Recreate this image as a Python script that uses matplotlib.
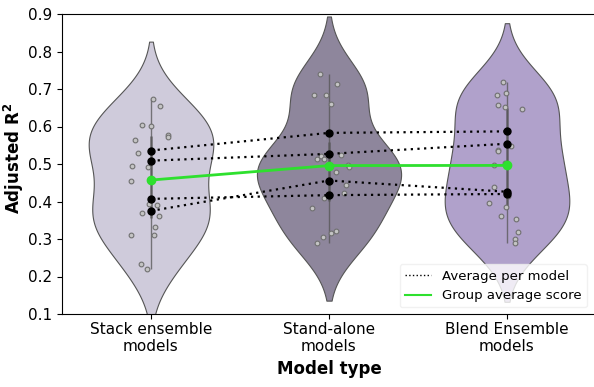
import numpy as np
import pandas as pd
import matplotlib.pyplot as plt
import seaborn as sns
from matplotlib.lines import Line2D

# adjusted R2 of every fitted model, per model type
groups = ["Stack ensemble\nmodels", "Stand-alone\nmodels", "Blend Ensemble\nmodels"]
stack_scores = [0.674, 0.655, 0.605, 0.601, 0.578, 0.572, 0.564, 0.529, 0.496, 0.491,
                0.455, 0.394, 0.390, 0.370, 0.362, 0.333, 0.311, 0.310, 0.233, 0.221]
standalone_scores = [0.739, 0.713, 0.685, 0.683, 0.659, 0.525, 0.521, 0.513, 0.513, 0.498,
                     0.493, 0.479, 0.445, 0.423, 0.409, 0.383, 0.322, 0.317, 0.305, 0.290]
blend_scores = [0.719, 0.689, 0.684, 0.658, 0.653, 0.647, 0.548, 0.537, 0.534, 0.503,
                0.497, 0.439, 0.414, 0.396, 0.385, 0.361, 0.354, 0.318, 0.300, 0.289]

# average score of each of the four models in each group
model_avgs = [
    [0.536, 0.583, 0.587],
    [0.509, 0.527, 0.554],
    [0.375, 0.456, 0.426],
    [0.407, 0.417, 0.420],
]

colors = ["#cfcbdb", "#8e869c", "#b0a1cb"]
half_widths = [0.35, 0.405, 0.35]
green = "#2ee02e"

all_scores = [stack_scores, standalone_scores, blend_scores]
df = pd.DataFrame({
    "group": np.repeat(groups, [len(s) for s in all_scores]),
    "score": np.concatenate(all_scores),
})


def kde(values, cut=2):
    # gaussian kde, scott bandwidth
    v = np.asarray(values)
    bw = v.std(ddof=1) * len(v) ** (-1 / 5)
    grid = np.linspace(v.min() - cut * bw, v.max() + cut * bw, 300)
    dens = np.exp(-0.5 * ((grid[:, None] - v[None, :]) / bw) ** 2).sum(axis=1)
    return grid, dens / dens.max()


fig = plt.figure(figsize=(5.94, 3.87), dpi=100)
ax = fig.add_axes([62 / 594, 73 / 387, 534 / 594, 300 / 387])

pos = np.arange(len(groups))
for i, s in enumerate(all_scores):
    y, d = kde(s)
    ax.fill_betweenx(y, i - d * half_widths[i], i + d * half_widths[i],
                     facecolor=colors[i], edgecolor="#555555", lw=0.8, zorder=1)
    q1, q3 = np.percentile(s, [25, 75])
    ax.vlines(i, min(s), max(s), color="#555555", lw=1.0, alpha=0.75, zorder=3)
    ax.vlines(i, q1, q3, color="#555555", lw=1.8, alpha=0.75, zorder=3)

np.random.seed(3)
sns.stripplot(data=df, x="group", y="score", order=groups, jitter=0.12,
              color="#c4c4c4", edgecolor="#707070", linewidth=0.8, size=3.4,
              zorder=4, ax=ax)

for m in model_avgs:
    ax.plot(pos, m, ls=(0, (1, 2)), color="black", lw=1.6, zorder=5)
    ax.plot(pos, m, "o", color="black", ms=5, zorder=6)

group_mean = [np.mean(s) for s in all_scores]
ax.plot(pos, group_mean, "-o", color=green, lw=2, ms=6, zorder=7)

ax.set_xlim(-0.5, 2.5)
ax.set_ylim(0.1, 0.9)
ax.set_yticks(np.arange(0.1, 0.91, 0.1))
ax.set_xticks(pos)
ax.set_xticklabels(groups)
ax.tick_params(labelsize=11)
ax.tick_params(axis="x", pad=2)
ax.set_xlabel("Model type", fontsize=12, fontweight="bold")
ax.set_ylabel("Adjusted R$\\mathbf{^2}$", fontsize=12, fontweight="bold")
ax.yaxis.set_label_coords(-0.067, 0.52)

handles = [Line2D([], [], color="black", ls=":", lw=1),
           Line2D([], [], color=green, lw=1.5)]
leg = ax.legend(handles, ["Average per model", "Group average score"],
                loc="lower right", bbox_to_anchor=(0.995, 0.0),
                fontsize=9.5, framealpha=0.8)
leg.get_frame().set_edgecolor("#eeeeee")
leg.set_zorder(10)

fig.savefig("out.png", dpi=100)
